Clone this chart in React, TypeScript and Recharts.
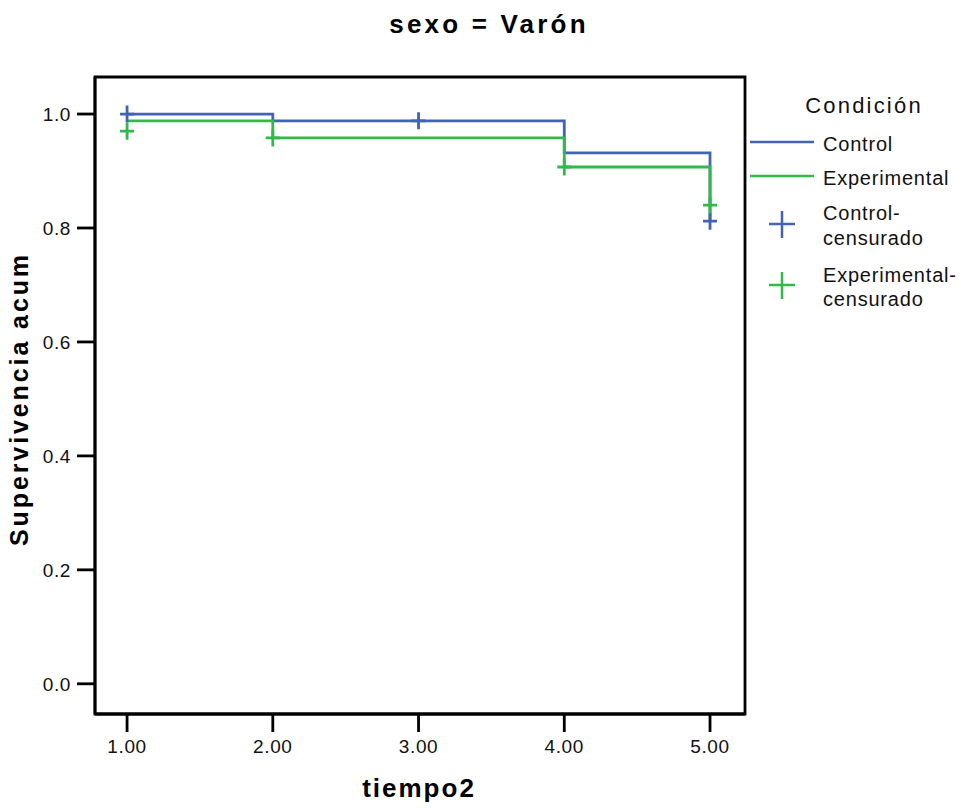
import { ComposedChart, Line, XAxis, YAxis, ReferenceArea } from "recharts"

// Kaplan-Meier step curves (tiempo2 vs supervivencia acumulada)
const controlCurve = [
  { t: 1, s: 1.0 },
  { t: 2, s: 0.988 },
  { t: 4, s: 0.932 },
  { t: 5, s: 0.812 }
]

const experimentalCurve = [
  { t: 1, s: 0.988 },
  { t: 2, s: 0.958 },
  { t: 4, s: 0.907 },
  { t: 5, s: 0.84 }
]

// censored observations
const controlCensored = [
  { t: 1, s: 1.0 },
  { t: 3, s: 0.988 },
  { t: 5, s: 0.812 }
]

const experimentalCensored = [
  { t: 1, s: 0.97 },
  { t: 2, s: 0.958 },
  { t: 4, s: 0.907 },
  { t: 5, s: 0.84 }
]

const xTicks = [1, 2, 3, 4, 5]
const yTicks = [0, 0.2, 0.4, 0.6, 0.8, 1.0]

const BLUE = "#4262b4"
const GREEN = "#31b94a"
const FONT = "'Liberation Sans', Arial, sans-serif"

const plus = (color: string) => (props: any) => {
  const { cx, cy, index } = props
  if (cx == null || cy == null) return <g key={index} />
  return (
    <path
      key={index}
      d={`M${cx - 7},${cy}H${cx + 7}M${cx},${cy - 8.5}V${cy + 8.5}`}
      stroke={color}
      strokeWidth={2.8}
      fill="none"
    />
  )
}

const tickStyle = { fontSize: 19, fill: "#111", fontFamily: FONT, letterSpacing: 0.6 }

export default function App() {
  return (
    <div style={{ position: "absolute", left: 0, top: 0, width: 961, height: 808, background: "#fff" }}>

      <ComposedChart
        width={961}
        height={808}
        margin={{ top: 77, right: 216, bottom: 0, left: 0 }}
      >

        <XAxis
          dataKey="t"
          type="number"
          domain={[0.78, 5.24]}
          ticks={xTicks}
          tickFormatter={(v: number) => v.toFixed(2)}
          allowDataOverflow
          height={94}
          tickSize={18}
          tickMargin={8}
          tick={tickStyle}
          stroke="#000"
          strokeWidth={2.8}
        />
        <YAxis
          type="number"
          domain={[-0.053, 1.065]}
          ticks={yTicks}
          tickFormatter={(v: number) => v.toFixed(1)}
          allowDataOverflow
          width={95}
          tickSize={18}
          tickMargin={6}
          tick={tickStyle}
          stroke="#000"
          strokeWidth={2.8}
        />

        <ReferenceArea
          x1={0.78}
          x2={5.24}
          y1={-0.053}
          y2={1.065}
          fill="none"
          stroke="#000"
          strokeWidth={2.8}
          fillOpacity={0}
          ifOverflow="extendDomain"
        />

        <Line
          data={controlCurve}
          dataKey="s"
          type="stepAfter"
          stroke={BLUE}
          strokeWidth={2.8}
          dot={false}
          isAnimationActive={false}
        />
        <Line
          data={experimentalCurve}
          dataKey="s"
          type="stepAfter"
          stroke={GREEN}
          strokeWidth={2.8}
          dot={false}
          isAnimationActive={false}
        />
        <Line
          data={controlCensored}
          dataKey="s"
          stroke="none"
          dot={plus(BLUE)}
          activeDot={false}
          isAnimationActive={false}
        />
        <Line
          data={experimentalCensored}
          dataKey="s"
          stroke="none"
          dot={plus(GREEN)}
          activeDot={false}
          isAnimationActive={false}
        />

      </ComposedChart>

      <svg
        width={961}
        height={808}
        style={{ position: "absolute", left: 0, top: 0, pointerEvents: "none" }}
        fontFamily={FONT}
      >
        <text x={489} y={33} textAnchor="middle" fontSize={26} fontWeight="bold" letterSpacing={3.2} fill="#000">
          sexo = Varón
        </text>

        <text x={419} y={797} textAnchor="middle" fontSize={26} fontWeight="bold" letterSpacing={2} fill="#000">
          tiempo2
        </text>

        <text
          x={28}
          y={399}
          textAnchor="middle"
          fontSize={25}
          fontWeight="bold"
          letterSpacing={2.9}
          fill="#000"
          transform="rotate(-90, 28, 399)"
        >
          Supervivencia acum
        </text>

        {/* legend */}
        <text x={864} y={113} textAnchor="middle" fontSize={22} letterSpacing={2.2} fill="#111">
          Condición
        </text>

        <line x1={750} x2={814} y1={142} y2={142} stroke={BLUE} strokeWidth={2.5} />
        <text x={823} y={151} fontSize={20} letterSpacing={0.8} fill="#111">Control</text>

        <line x1={750} x2={814} y1={176} y2={176} stroke={GREEN} strokeWidth={2.5} />
        <text x={823} y={185} fontSize={20} letterSpacing={0.8} fill="#111">Experimental</text>

        <path d="M769,224H795M782,211V238" stroke={BLUE} strokeWidth={2.5} fill="none" />
        <text x={823} y={220} fontSize={20} letterSpacing={0.8} fill="#111">Control-</text>
        <text x={823} y={245} fontSize={20} letterSpacing={0.8} fill="#111">censurado</text>

        <path d="M769,285H795M782,272V299" stroke={GREEN} strokeWidth={2.5} fill="none" />
        <text x={823} y={282} fontSize={20} letterSpacing={0.8} fill="#111">Experimental-</text>
        <text x={823} y={306} fontSize={20} letterSpacing={0.8} fill="#111">censurado</text>
      </svg>

    </div>
  )
}
